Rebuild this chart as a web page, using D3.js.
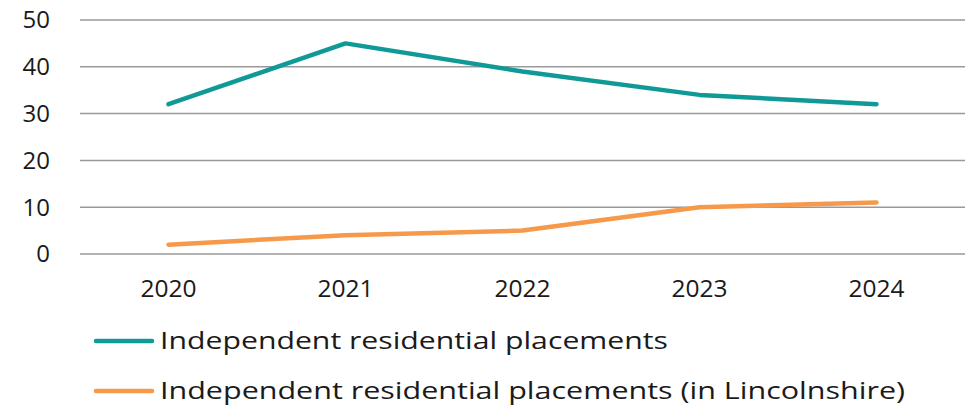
<!DOCTYPE html>
<html>
<head>
<meta charset="utf-8">
<script src="https://cdn.jsdelivr.net/npm/d3@7"></script>
<style>
  body { margin: 0; background: #fff; }
  text { font-family: "Open Sans", "Noto Sans", sans-serif; fill: #1a1a1a; }
</style>
</head>
<body>
<div id="chart"></div>
<script>
// data
var years = ["2020", "2021", "2022", "2023", "2024"];
var independent = [32, 45, 39, 34, 32];
var lincolnshire = [2, 4, 5, 10, 11];
var yTicks = [0, 10, 20, 30, 40, 50];
var seriesNames = ["Independent residential placements", "Independent residential placements (in Lincolnshire)"];
var seriesColors = ["#0f9a97", "#f7994a"];

var width = 975, height = 406;
var margin = {top: 20, left: 80, right: 10};
var plotBottom = 254;

var svg = d3.select("#chart").append("svg")
    .attr("width", width)
    .attr("height", height);

var x = d3.scaleBand()
    .domain(years)
    .range([margin.left, width - margin.right]);

var y = d3.scaleLinear()
    .domain([0, 50])
    .range([plotBottom, margin.top]);

// gridlines
svg.append("g")
    .selectAll("line")
    .data(yTicks)
    .enter().append("line")
    .attr("x1", margin.left)
    .attr("x2", width - margin.right)
    .attr("y1", function(d) { return y(d); })
    .attr("y2", function(d) { return y(d); })
    .attr("stroke", "#999")
    .attr("stroke-width", 1.5);

// y labels
svg.append("g")
    .selectAll("text")
    .data(yTicks)
    .enter().append("text")
    .attr("x", 50)
    .attr("y", function(d) { return y(d); })
    .attr("dy", "0.35em")
    .attr("text-anchor", "end")
    .style("font-size", "24px")
    .text(function(d) { return d; });

// x labels
svg.append("g")
    .selectAll("text")
    .data(years)
    .enter().append("text")
    .attr("x", function(d) { return x(d) + x.bandwidth() / 2; })
    .attr("y", 297)
    .attr("text-anchor", "middle")
    .style("font-size", "24.5px")
    .text(function(d) { return d; });

var line = d3.line()
    .x(function(d, i) { return x(years[i]) + x.bandwidth() / 2; })
    .y(function(d) { return y(d); });

[independent, lincolnshire].forEach(function(s, i) {
  svg.append("path")
      .datum(s)
      .attr("fill", "none")
      .attr("stroke", seriesColors[i])
      .attr("stroke-width", 4.5)
      .attr("stroke-linecap", "round")
      .attr("stroke-linejoin", "round")
      .attr("d", line);
});

// legend (text in the original is stretched wide)
var legendWidths = [508, 745];
var legend = svg.append("g")
    .selectAll("g")
    .data(seriesNames)
    .enter().append("g")
    .attr("transform", function(d, i) { return "translate(0," + (341 + i * 50) + ")"; });

legend.append("line")
    .attr("x1", 96).attr("x2", 152)
    .attr("stroke", function(d, i) { return seriesColors[i]; })
    .attr("stroke-width", 4.5)
    .attr("stroke-linecap", "round");

legend.append("text")
    .attr("x", 160)
    .attr("dy", "0.35em")
    .attr("textLength", function(d, i) { return legendWidths[i]; })
    .attr("lengthAdjust", "spacingAndGlyphs")
    .style("font-size", "24px")
    .text(function(d) { return d; });
</script>
</body>
</html>
